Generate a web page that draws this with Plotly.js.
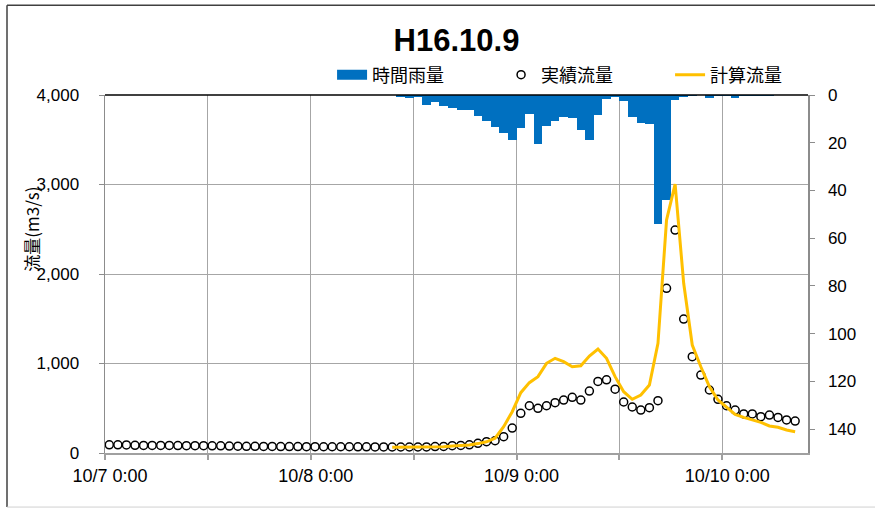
<!DOCTYPE html>
<html>
<head>
<meta charset="utf-8">
<script src="https://cdn.plot.ly/plotly-3.0.1.min.js"></script>
<style>html,body{margin:0;padding:0;background:#fff}#chart{width:875px;height:508px}</style>
</head>
<body>
<div id="chart"></div>
<script>
// Hourly data from 10/7 0:00 (hour index 0)
const tickHours = [0, 12, 24, 36, 48, 60, 72];
const tickLabels = ['10/7 0:00', '', '10/8 0:00', '', '10/9 0:00', '', '10/10 0:00'];

// 時間雨量 (mm/h), hours 0..81
const rainfall = [
  0,0,0,0,0,0,0,0,0,0,
  0,0,0,0,0,0,0,0,0,0,
  0,0,0,0,0,0,0,0,0,0,
  0,0,0,0,0.7,1.4,1.0,4.2,2.8,4.5,
  5.6,6.3,6.3,8.8,10.8,13.3,16.1,18.7,14,8,
  20.4,12.9,10.9,9.4,9.8,14.7,18.7,8.4,1.5,1.0,
  2.4,9.4,11.9,12.3,54,43.8,2.1,1.0,0.3,0,
  1.4,0.5,0.3,1.4,0.5,0.3,0.3,0.3,0,0,
  0,0
];

// 実績流量 (m3/s), hours 0..80
const observed = [
  92,92,90,86,85,85,84,84,83,82,
  82,82,80,80,78,76,75,75,74,73,
  72,72,72,71,71,70,70,70,70,69,
  69,68,68,67,67,67,67,68,72,74,
  82,85,92,108,126,138,182,279,443,528,
  499,528,562,592,622,592,692,800,818,713,
  570,514,480,506,584,1840,2491,1497,1076,871,
  704,600,528,480,436,436,406,424,398,369,
  357
];

// 計算流量 (m3/s), hours 0..80 (null before computation starts)
const computed = [
  null,null,null,null,null,null,null,null,null,null,
  null,null,null,null,null,null,null,null,null,null,
  null,null,null,null,null,null,null,null,null,null,
  null,null,null,64,64,64,64,65,68,70,
  78,82,90,105,125,165,294,461,674,786,
  853,1002,1058,1020,964,975,1083,1162,1058,853,
  685,600,648,760,1225,2603,3005,1896,1206,964,
  741,592,517,432,398,369,343,302,287,257,
  238
];

const xr = rainfall.map((_, i) => i + 0.5);
const xo = observed.map((_, i) => i + 0.5);
const xc = computed.map((_, i) => i + 0.5);

const traces = [
  // legend-only entry giving the wide blue swatch for rainfall
  {
    type: 'scatter', mode: 'lines', name: '時間雨量', x: [null], y: [null],
    line: {color: '#0070C0', width: 15}, yaxis: 'y', hoverinfo: 'skip'
  },
  {
    type: 'bar', name: '時間雨量', x: xr, y: rainfall, width: 1, showlegend: false,
    marker: {color: '#0070C0', line: {width: 0}}, yaxis: 'y'
  },
  {
    type: 'scatter', mode: 'markers', name: '実績流量', x: xo, y: observed,
    marker: {symbol: 'circle', size: 8, color: '#ffffff', line: {color: '#000000', width: 1.5}},
    yaxis: 'y2'
  },
  {
    type: 'scatter', mode: 'lines', name: '計算流量', x: xc, y: computed,
    line: {color: '#FFC000', width: 3}, connectgaps: false, yaxis: 'y2'
  }
];

const tickFont = {family: 'Liberation Sans, Arial, sans-serif', size: 17, color: '#000'};

const layout = {
  width: 875, height: 508,
  margin: {l: 105, r: 67, t: 95, b: 55},
  paper_bgcolor: '#fff', plot_bgcolor: '#fff',
  showlegend: true,
  bargap: 0,
  title: {
    text: '<b>H16.10.9</b>', xref: 'paper', x: 0.5, xanchor: 'center',
    yref: 'container', y: 0.921, yanchor: 'middle',
    font: {family: 'Liberation Sans, Arial, sans-serif', size: 31, color: '#000'}
  },
  legend: {
    orientation: 'h', x: 0.323, xanchor: 'left', y: 1.056, yanchor: 'middle',
    font: {family: 'Noto Sans CJK JP, sans-serif', size: 18, color: '#000'},
    bgcolor: 'rgba(0,0,0,0)', entrywidth: 124, traceorder: 'normal'
  },
  xaxis: {
    range: [0, 82], tickmode: 'array', tickvals: tickHours, ticktext: tickLabels,
    showgrid: true, gridcolor: '#a6a6a6', gridwidth: 1,
    showline: true, linecolor: '#a0a0a0', linewidth: 2,
    ticks: 'outside', ticklen: 5, tickcolor: '#a0a0a0', tickwidth: 2,
    ticklabelshift: 5,
    tickfont: {family: 'Liberation Sans, Arial, sans-serif', size: 18, color: '#000'},
    zeroline: false, fixedrange: true
  },
  yaxis: {
    side: 'right', range: [150, 0], tickmode: 'array',
    tickvals: [0, 20, 40, 60, 80, 100, 120, 140],
    showgrid: false, showline: true, linecolor: '#8c8c8c', linewidth: 1.5,
    ticks: 'outside', ticklen: 5, tickcolor: '#8c8c8c',
    ticklabelstandoff: 10, tickfont: tickFont, zeroline: false
  },
  yaxis2: {
    overlaying: 'y', side: 'left', range: [0, 4000], dtick: 1000, tickformat: ',d',
    showgrid: true, gridcolor: '#a6a6a6', gridwidth: 1,
    showline: true, linecolor: '#8c8c8c', linewidth: 1.5,
    ticks: 'outside', ticklen: 5, tickcolor: '#8c8c8c',
    ticklabelstandoff: 16, tickfont: tickFont, zeroline: false
  },
  annotations: [
    {
      text: '流量(m3/s)', textangle: -90, xref: 'paper', yref: 'paper',
      x: -0.104, y: 0.626, xanchor: 'center', yanchor: 'middle', showarrow: false,
      font: {family: 'Noto Sans CJK JP, sans-serif', size: 17, color: '#000'}
    }
  ],
  shapes: [
    {type: 'line', xref: 'paper', yref: 'paper', x0: 0, x1: 1, y0: 1, y1: 1,
     line: {color: '#000', width: 1.5}},
    {type: 'line', xref: 'paper', yref: 'paper', x0: -0.1394, x1: -0.1394, y0: -0.151, y1: 1.251,
     line: {color: '#404040', width: 1.5}},
    {type: 'line', xref: 'paper', yref: 'paper', x0: -0.1394, x1: 1.11, y0: 1.251, y1: 1.251,
     line: {color: '#404040', width: 1.5}},
    {type: 'line', xref: 'paper', yref: 'paper', x0: -0.1394, x1: 1.11, y0: -0.151, y1: -0.151,
     line: {color: '#d0d0d0', width: 1}}
  ]
};

Plotly.newPlot('chart', traces, layout, {staticPlot: true, displayModeBar: false});
</script>
</body>
</html>
